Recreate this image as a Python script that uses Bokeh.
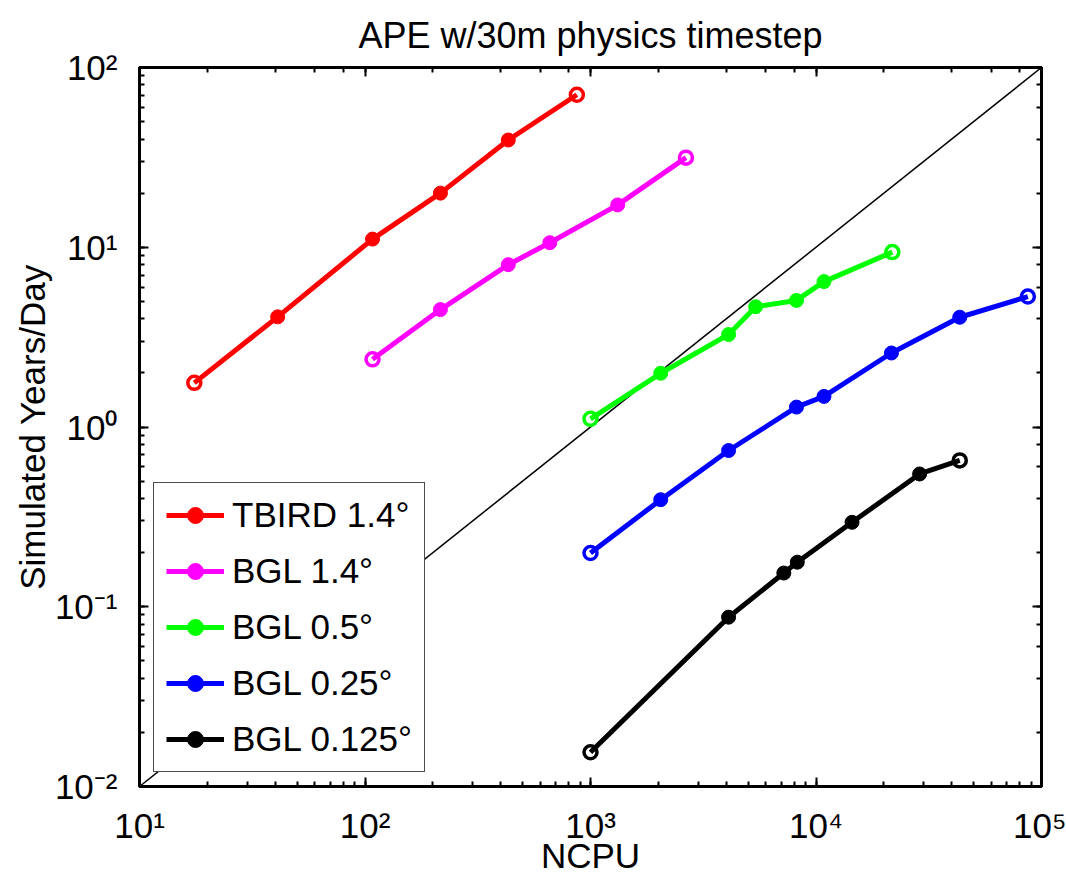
from bokeh.plotting import figure
from bokeh.models import LogAxis, CustomJSTickFormatter, Legend, LegendItem, Range1d
from bokeh.embed import file_html
from bokeh.resources import INLINE

# ---------------- data ----------------
title_text = "APE w/30m physics timestep"
x_label = "NCPU"
y_label = "Simulated Years/Day"

series_names = ["TBIRD 1.4°", "BGL 1.4°", "BGL 0.5°", "BGL 0.25°", "BGL 0.125°"]
series_colors = ["#ff0000", "#ff00ff", "#00ff00", "#0000ff", "#000000"]

tbird_14_ncpu = [17.5, 41, 108, 216, 432, 870]
tbird_14_ypd = [1.76, 4.1, 11.1, 20.0, 39.5, 70.5]

bgl_14_ncpu = [108, 216, 432, 660, 1320, 2650]
bgl_14_ypd = [2.38, 4.5, 8.0, 10.6, 17.2, 31.5]

bgl_05_ncpu = [1000, 2048, 4096, 5400, 8192, 10850, 21800]
bgl_05_ypd = [1.11, 1.99, 3.27, 4.67, 5.06, 6.44, 9.4]

bgl_025_ncpu = [1000, 2048, 4096, 8192, 10850, 21600, 43400, 87000]
bgl_025_ypd = [0.199, 0.394, 0.74, 1.29, 1.48, 2.58, 4.08, 5.32]

bgl_0125_ncpu = [1000, 4096, 7200, 8260, 14450, 28800, 43400]
bgl_0125_ypd = [0.0155, 0.0875, 0.154, 0.177, 0.295, 0.548, 0.652]

ideal_ncpu = [10, 100000]
ideal_ypd = [0.01, 100]

x_ticks = [10, 100, 1000, 10000, 100000]
x_tick_labels = ["10\u00b9", "10\u00b2", "10\u00b3", "10\u2074", "10\u2075"]
y_ticks = [0.01, 0.1, 1, 10, 100]
y_tick_labels = ["10\u207b\u00b2", "10\u207b\u00b9", "10\u2070", "10\u00b9", "10\u00b2"]

all_x = [tbird_14_ncpu, bgl_14_ncpu, bgl_05_ncpu, bgl_025_ncpu, bgl_0125_ncpu]
all_y = [tbird_14_ypd, bgl_14_ypd, bgl_05_ypd, bgl_025_ypd, bgl_0125_ypd]

FONT = "Liberation Sans"

# ---------------- figure ----------------
p = figure(width=1066, height=877, x_axis_type="log", y_axis_type="log",
           x_range=Range1d(x_ticks[0], x_ticks[-1]), y_range=Range1d(y_ticks[0], y_ticks[-1]),
           output_backend="svg", toolbar_location=None, title=title_text,
           min_border_left=139, min_border_right=25, min_border_top=67, min_border_bottom=91)
p.background_fill_color = "white"
p.border_fill_color = "white"
p.xgrid.visible = False
p.ygrid.visible = False
p.outline_line_color = "black"
p.outline_line_width = 3

p.title.text_font = FONT
p.title.text_font_size = "36px"
p.title.text_font_style = "normal"
p.title.align = "center"
p.title.text_color = "black"
p.title.standoff = 20
p.title.vertical_align = "top"

p.add_layout(LogAxis(), "right")
p.add_layout(LogAxis(), "above")

for ax in p.xaxis + p.yaxis:
    ax.major_tick_in = 9
    ax.major_tick_out = 0
    ax.minor_tick_in = 5
    ax.minor_tick_out = 0
    ax.axis_line_width = 3
    ax.major_tick_line_width = 2
    ax.minor_tick_line_width = 2
    ax.axis_line_color = "black"
    ax.major_tick_line_color = "black"
    ax.minor_tick_line_color = "black"

empty = CustomJSTickFormatter(code="return ''")
for ax in (p.right[0], p.above[0]):
    ax.formatter = empty
    ax.major_label_text_font_size = "1px"
    ax.major_label_standoff = 0

bx = p.below[0]
bx.major_label_overrides = dict(zip(x_ticks, x_tick_labels))
bx.major_label_text_font = FONT
bx.major_label_text_font_size = "35px"
bx.major_label_text_color = "black"
bx.major_label_standoff = 19
bx.axis_label = x_label
bx.axis_label_text_font = FONT
bx.axis_label_text_font_size = "35px"
bx.axis_label_text_font_style = "normal"
bx.axis_label_text_color = "black"
bx.axis_label_standoff = -12

ly = p.left[0]
ly.major_label_overrides = dict(zip(y_ticks, y_tick_labels))
ly.major_label_text_font = FONT
ly.major_label_text_font_size = "35px"
ly.major_label_text_color = "black"
ly.major_label_standoff = 22
ly.axis_label = y_label
ly.axis_label_text_font = FONT
ly.axis_label_text_font_size = "35px"
ly.axis_label_text_font_style = "normal"
ly.axis_label_text_color = "black"
ly.axis_label_standoff = 0

# ---------------- ideal scaling line ----------------
p.line(ideal_ncpu, ideal_ypd, line_color="black", line_width=1.5)

# ---------------- series ----------------
items = []
for name, color, xv, yv in zip(series_names, series_colors, all_x, all_y):
    lr = p.line(xv, yv, line_color=color, line_width=5)
    fr = p.scatter(xv[1:-1], yv[1:-1], size=14, fill_color=color, line_color=color,
                   marker="circle")
    p.scatter([xv[0], xv[-1]], [yv[0], yv[-1]], size=13, fill_color=None,
              line_color=color, line_width=3.5, marker="circle")
    items.append(LegendItem(label=name, renderers=[lr, fr]))

legend = Legend(items=items, location="bottom_left")
legend.label_text_font = FONT
legend.label_text_font_size = "35px"
legend.label_text_color = "black"
legend.glyph_width = 58
legend.glyph_height = 40
legend.label_height = 40
legend.spacing = 16
legend.padding = 12
legend.margin = 14
legend.label_standoff = 8
legend.border_line_color = "black"
legend.border_line_width = 1
legend.border_line_alpha = 0.7
legend.background_fill_color = "white"
legend.background_fill_alpha = 1.0
p.add_layout(legend)

open("out.html", "w").write(file_html(p, INLINE))
